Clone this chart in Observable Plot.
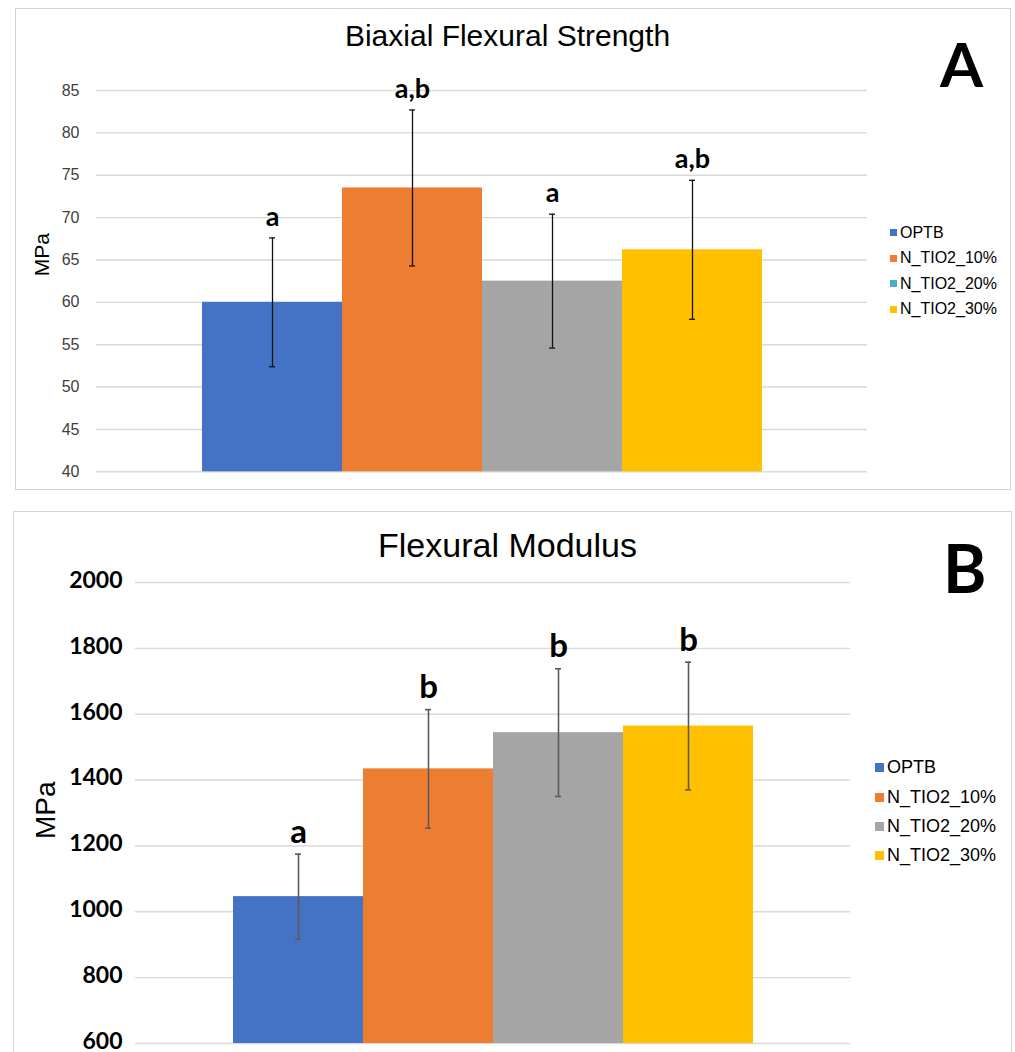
<!DOCTYPE html>
<html>
<head>
<meta charset="utf-8">
<script src="https://cdn.jsdelivr.net/npm/d3@7"></script>
<script src="https://cdn.jsdelivr.net/npm/@observablehq/plot@0.6"></script>
<style>
  html, body { margin: 0; padding: 0; background: #fff; overflow: hidden; }
  #wrap { position: relative; width: 1015px; height: 1052px; overflow: hidden; background: #fff; }
  .panel { position: absolute; border: 1.5px solid #d4d4d4; box-sizing: border-box; background: #fff; }
  .chart { position: absolute; left: 0; }
  .title { position: absolute; left: 0; width: 1015px; text-align: center; font-family: "Liberation Sans", Arial, sans-serif; color: #000; line-height: 1; white-space: nowrap; }
  .tag { position: absolute; font-family: "Lato", "Liberation Sans", sans-serif; font-weight: 700; color: #000; line-height: 1; }
  .legend { position: absolute; font-family: "Liberation Sans", Arial, sans-serif; color: #000; }
  .legend .item { position: absolute; left: 0; white-space: nowrap; display: flex; align-items: center; }
  .legend .sw { display: inline-block; margin-right: 3px; }
</style>
</head>
<body>
<div id="wrap">
  <div class="panel" style="left:15px;top:8px;width:996px;height:482px"></div>
  <div class="panel" style="left:13px;top:511px;width:999px;height:560px"></div>
  <div class="chart" id="chartA" style="top:0"></div>
  <div class="chart" id="chartB" style="top:500px"></div>
  <div class="title" id="titleA" style="top:21px;font-size:30px"></div>
  <div class="title" id="titleB" style="top:528px;font-size:34px"></div>
  <div class="tag" style="left:940px;top:32px;font-size:62px">A</div>
  <div class="tag" style="left:943px;top:535px;font-size:66px">B</div>
  <div class="legend" id="legendA" style="left:890px;top:0"></div>
  <div class="legend" id="legendB" style="left:875px;top:0"></div>
</div>
<script>
// ---------- data ----------
const categories = ["OPTB", "N_TIO2_10%", "N_TIO2_20%", "N_TIO2_30%"];
const barColors = ["#4472C4", "#ED7D31", "#A5A5A5", "#FFC000"];
const legendColorsA = ["#4472C4", "#ED7D31", "#4BACC6", "#FFC000"];
const legendColorsB = ["#4472C4", "#ED7D31", "#A5A5A5", "#FFC000"];

const titleA = "Biaxial Flexural Strength";
const strengthMean = [60.0, 73.5, 62.5, 66.2];
const strengthSD = [7.6, 9.2, 7.9, 8.2];
const strengthLetters = ["a", "a,b", "a", "a,b"];
const yTicksA = [40, 45, 50, 55, 60, 65, 70, 75, 80, 85];

const titleB = "Flexural Modulus";
const modulusMean = [1046, 1434, 1544, 1564];
const modulusSD = [129, 180, 194, 194];
const modulusLetters = ["a", "b", "b", "b"];
const yTicksB = [600, 800, 1000, 1200, 1400, 1600, 1800, 2000];

const yLabel = "MPa";

// ---------- tables ----------
const dataA = categories.map((name, i) => ({name, value: strengthMean[i], sd: strengthSD[i], letter: strengthLetters[i]}));
const dataB = categories.map((name, i) => ({name, value: modulusMean[i], sd: modulusSD[i], letter: modulusLetters[i]}));

// ---------- chart A ----------
const chartA = Plot.plot({
  width: 1015, height: 500,
  marginLeft: 96, marginRight: 148, marginTop: 90, marginBottom: 28.7,
  style: {fontFamily: "Liberation Sans, Arial, sans-serif", fontSize: "16px", color: "#404040", background: "transparent", overflow: "visible"},
  x: {domain: categories, paddingInner: 0, paddingOuter: 0.74, axis: null},
  y: {domain: [yTicksA[0], yTicksA[yTicksA.length - 1]]},
  color: {domain: categories, range: barColors},
  marks: [
    Plot.gridY(yTicksA, {stroke: "#d9d9d9", strokeOpacity: 1, strokeWidth: 1.4}),
    Plot.axisY(yTicksA, {tickSize: 0, tickPadding: 17, label: null, fontSize: 16, fill: "#404040", tickFormat: d => String(d)}),
    Plot.barY(dataA, {x: "name", y1: yTicksA[0], y2: "value", fill: "name"}),
    Plot.ruleX(dataA, {x: "name", y1: d => d.value - d.sd, y2: d => d.value + d.sd, stroke: "#111", strokeWidth: 1.3}),
    Plot.tickY(dataA, {x: "name", y: d => d.value + d.sd, stroke: "#111", strokeWidth: 1.3, insetLeft: 67, insetRight: 67}),
    Plot.tickY(dataA, {x: "name", y: d => d.value - d.sd, stroke: "#111", strokeWidth: 1.3, insetLeft: 67, insetRight: 67}),
    Plot.text(dataA, {x: "name", y: d => d.value + d.sd, text: "letter", dy: -21, fontSize: 27, fontWeight: "bold", fontFamily: "Lato, sans-serif", fill: "#000"}),
    Plot.text([yLabel], {frameAnchor: "left", rotate: -90, dx: -54, dy: -5, fontSize: 21, fill: "#000", fontFamily: "Liberation Sans, Arial, sans-serif"})
  ]
});
document.getElementById("chartA").appendChild(chartA);

// ---------- chart B ----------
const chartB = Plot.plot({
  width: 1015, height: 552,
  marginLeft: 135, marginRight: 165, marginTop: 82, marginBottom: 9,
  style: {fontFamily: "Lato, sans-serif", fontSize: "23px", color: "#000", background: "transparent", overflow: "visible"},
  x: {domain: categories, paddingInner: 0, paddingOuter: 0.75, axis: null},
  y: {domain: [yTicksB[0], yTicksB[yTicksB.length - 1]]},
  color: {domain: categories, range: barColors},
  marks: [
    Plot.gridY(yTicksB, {stroke: "#d9d9d9", strokeOpacity: 1, strokeWidth: 1.4}),
    Plot.axisY(yTicksB, {tickSize: 0, tickPadding: 13, label: null, fontSize: 23, fontWeight: "bold", fill: "#000", dy: -2, tickFormat: d => String(d)}),
    Plot.barY(dataB, {x: "name", y1: yTicksB[0], y2: "value", fill: "name"}),
    Plot.ruleX(dataB, {x: "name", y1: d => d.value - d.sd, y2: d => d.value + d.sd, stroke: "#5a5a5a", strokeWidth: 1.6}),
    Plot.tickY(dataB, {x: "name", y: d => d.value + d.sd, stroke: "#5a5a5a", strokeWidth: 1.6, insetLeft: 62, insetRight: 62}),
    Plot.tickY(dataB, {x: "name", y: d => d.value - d.sd, stroke: "#5a5a5a", strokeWidth: 1.6, insetLeft: 62, insetRight: 62}),
    Plot.text(dataB, {x: "name", y: d => d.value + d.sd, text: "letter", dy: -22, fontSize: 33, fontWeight: "bold", fontFamily: "Lato, sans-serif", fill: "#000"}),
    Plot.text([yLabel], {frameAnchor: "left", rotate: -90, dx: -89, dy: 26, fontSize: 28, fill: "#000", fontFamily: "Liberation Sans, Arial, sans-serif"})
  ]
});
document.getElementById("chartB").appendChild(chartB);

// ---------- titles & legends ----------
document.getElementById("titleA").textContent = titleA;
document.getElementById("titleB").textContent = titleB;

function legend(el, colors, top0, step, fontSize, sw) {
  categories.forEach((c, i) => {
    const item = document.createElement("div");
    item.className = "item";
    item.style.top = (top0 + i * step - fontSize * 0.6) + "px";
    item.style.fontSize = fontSize + "px";
    item.style.height = (fontSize * 1.2) + "px";
    const s = document.createElement("span");
    s.className = "sw";
    s.style.width = sw + "px"; s.style.height = sw + "px"; s.style.background = colors[i];
    const t = document.createElement("span");
    t.textContent = c;
    item.appendChild(s); item.appendChild(t);
    el.appendChild(item);
  });
}
legend(document.getElementById("legendA"), legendColorsA, 233, 25.5, 16, 7);
legend(document.getElementById("legendB"), legendColorsB, 768, 29.3, 18, 9);
</script>
</body>
</html>
